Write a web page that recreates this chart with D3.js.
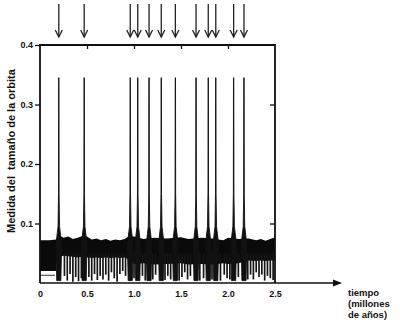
<!DOCTYPE html>
<html>
<head>
<meta charset="utf-8">
<script src="https://cdn.jsdelivr.net/npm/d3@7"></script>
<style>
  body { margin: 0; background: #fff; }
  text { font-family: "Liberation Sans", Arial, sans-serif; font-weight: bold; fill: #111; }
</style>
</head>
<body>
<div class="canvas"></div>
<script>
// data
const peakTimes = [0.20, 0.47, 0.96, 1.04, 1.16, 1.29, 1.44, 1.66, 1.79, 1.87, 2.06, 2.17];
const peakValues = [0.345, 0.345, 0.345, 0.345, 0.345, 0.345, 0.345, 0.345, 0.345, 0.345, 0.345, 0.345];

// noise band envelope
const bandT   = [0, 0.05, 0.10, 0.17, 0.18, 0.23, 0.25, 0.30, 0.35, 0.40, 0.45, 0.50, 0.55, 0.60, 0.65, 0.70, 0.75, 0.80, 0.85, 0.90, 0.94,
                 1.00, 1.10, 1.22, 1.35, 1.50, 1.58, 1.72, 1.83, 1.95, 2.00, 2.11, 2.22, 2.30, 2.35, 2.40, 2.45, 2.50];
const bandTop = [0.072, 0.072, 0.072, 0.073, 0.075, 0.078, 0.076, 0.078, 0.074, 0.076, 0.079, 0.078, 0.073, 0.075, 0.072, 0.074, 0.071, 0.073, 0.072, 0.074, 0.078,
                 0.078, 0.074, 0.076, 0.075, 0.077, 0.074, 0.076, 0.075, 0.072, 0.076, 0.074, 0.075, 0.072, 0.074, 0.071, 0.074, 0.077];
const bandLow = [0.020, 0.020, 0.020, 0.020, 0.040, 0.045, 0.046, 0.045, 0.044, 0.043, 0.044, 0.043, 0.042, 0.043, 0.042, 0.043, 0.042, 0.043, 0.042, 0.043, 0.040,
                 0.032, 0.033, 0.031, 0.032, 0.033, 0.031, 0.032, 0.031, 0.033, 0.032, 0.033, 0.038, 0.037, 0.038, 0.037, 0.038, 0.038];

// downward dips below the band
const dropT = [0.26, 0.29, 0.32, 0.35, 0.38, 0.41, 0.44, 0.52, 0.55, 0.58, 0.61, 0.64, 0.67, 0.70, 0.73, 0.76, 0.79,
               0.82, 0.85, 0.88, 0.91, 1.00, 1.09, 1.12, 1.20, 1.23, 1.33, 1.36, 1.39, 1.48, 1.51, 1.54, 1.57, 1.60,
               1.70, 1.74, 1.83, 1.92, 1.96, 1.99, 2.02, 2.11, 2.21, 2.24, 2.27, 2.30, 2.33, 2.36, 2.39, 2.42, 2.45, 2.48];
const dropV = [0.012, 0.004, 0.015, 0.002, 0.010, 0.003, 0.008, 0.010, 0.004, 0.015, 0.005, 0.012, 0.006, 0.014, 0.004, 0.018, 0.008,
               0.002, 0.015, 0.020, 0.012, 0.008, 0.012, 0.004, 0.006, 0.014, 0.005, 0.012, 0.006, 0.004, 0.010, 0.018, 0.006, 0.012,
               0.004, 0.008, 0.006, 0.004, 0.014, 0.008, 0.006, 0.010, 0.006, 0.014, 0.006, 0.018, 0.010, 0.014, 0.004, 0.012, 0.008, 0.005];

const xTicks = [0, 0.5, 1.0, 1.5, 2.0, 2.5];
const yTicks = [0.1, 0.2, 0.3, 0.4];
const yLabel = 'Medida del  tamaño de la orbita';
const xLabel = ['tiempo', '(millones', 'de años)'];

const svg = d3.select('.canvas')
  .append('svg')
    .attr('width', 400)
    .attr('height', 323);

const x = d3.scaleLinear().domain([0, 2.5]).range([40, 275]);
const y = d3.scaleLinear().domain([0, 0.4]).range([283, 45]);

// noise band
const band = d3.area()
  .x(d => x(d[0]))
  .y0(d => y(d[2]))
  .y1(d => y(d[1]));

svg.append('path')
  .attr('d', band(bandT.map((t, i) => [t, bandTop[i], bandLow[i]])))
  .attr('fill', '#0a0a0a');

// thin floor line under the first stretch
svg.append('line')
  .attr('x1', x(0)).attr('x2', x(0.16))
  .attr('y1', y(0.013)).attr('y2', y(0.013))
  .attr('stroke', '#333').attr('stroke-width', 1);

// dips
svg.selectAll('line.drop')
  .data(dropT)
  .enter()
  .append('line')
    .attr('class', 'drop')
    .attr('x1', d => x(d))
    .attr('x2', d => x(d))
    .attr('y1', y(0.05))
    .attr('y2', (d, i) => y(dropV[i]))
    .attr('stroke', '#151515')
    .attr('stroke-width', 1.7);

// peaks: thin spike on a wide dark base that reaches the floor
const peakShape = [[-0.022, 0.004], [-0.03, 0.065], [-0.008, 0.095], [-0.003, 0.15], [-0.0015, 1],
                   [0.0015, 1], [0.003, 0.15], [0.008, 0.095], [0.03, 0.065], [0.022, 0.004]];
const peakLine = d3.line()
  .x(d => x(d[0]))
  .y(d => y(d[1]));

svg.selectAll('path.peak')
  .data(peakTimes)
  .enter()
  .append('path')
    .attr('class', 'peak')
    .attr('d', (t, i) => peakLine(peakShape.map(p => [t + p[0], p[1] === 1 ? peakValues[i] : p[1]])) + 'Z')
    .attr('fill', '#111')
    .attr('stroke', '#111')
    .attr('stroke-width', 0.9);

// arrows above the peaks
const arrows = svg.selectAll('g.arrow')
  .data(peakTimes)
  .enter()
  .append('g')
    .attr('class', 'arrow')
    .attr('transform', d => `translate(${x(d)},0)`);

arrows.append('line')
  .attr('y1', 4).attr('y2', 37)
  .attr('stroke', '#222').attr('stroke-width', 1.3);
arrows.append('path')
  .attr('d', 'M-3.5,30 L0,37 L3.5,30')
  .attr('fill', 'none').attr('stroke', '#222').attr('stroke-width', 1.3);

// axes
const yAxis = d3.axisLeft(y).tickValues(yTicks).tickSize(5).tickPadding(2)
  .tickFormat(d3.format('.1f'));
const xAxis = d3.axisBottom(x).tickValues(xTicks).tickSize(0).tickPadding(8)
  .tickFormat(d => d === 0 ? '0' : d3.format('.1f')(d));
const topAxis = d3.axisTop(x).tickValues([0.5, 1.0, 1.5, 2.0]).tickSize(-4).tickFormat('');
const rightAxis = d3.axisRight(y).tickValues([0.1, 0.3]).tickSize(-5).tickFormat('');

const gy = svg.append('g').attr('transform', 'translate(40,0)').call(yAxis);
const gx = svg.append('g').attr('transform', 'translate(0,283)').call(xAxis);
const gt = svg.append('g').attr('transform', 'translate(0,45)').call(topAxis);
const gr = svg.append('g').attr('transform', 'translate(275,0)').call(rightAxis);

[gy, gx, gt, gr].forEach(g => {
  g.select('.domain').remove();
  g.selectAll('line').attr('stroke', '#111').attr('stroke-width', 1.3);
  g.selectAll('text').style('font-size', '9px').attr('fill', '#111');
});

// frame
svg.append('path')
  .attr('d', `M${x(0)},${y(0)} V${y(0.4)} H${x(2.5)} V${y(0)}`)
  .attr('fill', 'none').attr('stroke', '#111').attr('stroke-width', 1.8);

// x axis with arrow
svg.append('line')
  .attr('x1', x(0)).attr('x2', 340)
  .attr('y1', y(0)).attr('y2', y(0))
  .attr('stroke', '#111').attr('stroke-width', 1.5);
svg.append('path')
  .attr('d', `M333,${y(0) - 3.5} L342,${y(0)} L333,${y(0) + 3.5} Z`)
  .attr('fill', '#111');

// labels
svg.append('text')
  .attr('transform', `translate(15,151) rotate(-90)`)
  .attr('text-anchor', 'middle')
  .style('font-size', '11px')
  .style('white-space', 'pre')
  .text(yLabel);

svg.append('g')
  .attr('transform', 'translate(348,296)')
  .selectAll('text')
  .data(xLabel)
  .enter()
  .append('text')
    .attr('y', (d, i) => i * 11)
    .style('font-size', '9.5px')
    .text(d => d);
</script>
</body>
</html>
